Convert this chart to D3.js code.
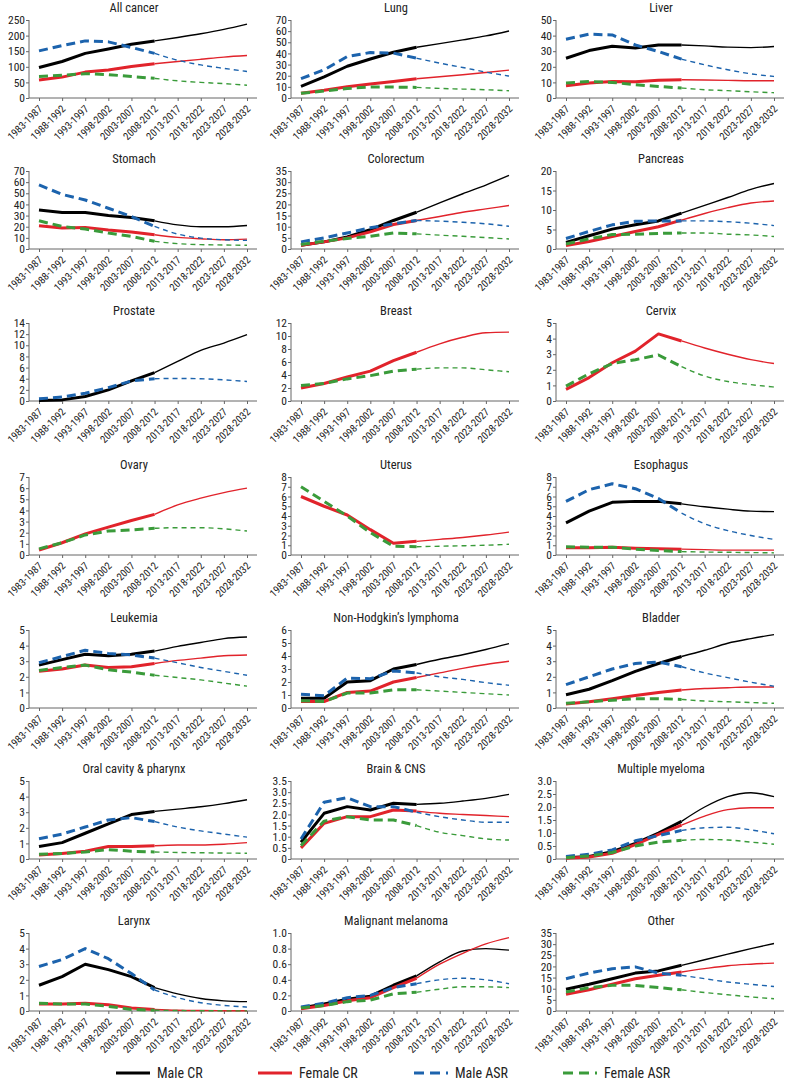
<!DOCTYPE html>
<html><head><meta charset="utf-8">
<script src="https://cdn.jsdelivr.net/npm/d3@7"></script>
<style>
body{margin:0;background:#fff;}
svg text{font-family:"Liberation Sans Narrow","Arial Narrow","Roboto Condensed","Liberation Sans",sans-serif;fill:#222;}
</style></head><body>
<svg id="c" width="791" height="1084"></svg>
<script>
const categories = ["1983-1987","1988-1992","1993-1997","1998-2002","2003-2007","2008-2012","2013-2017","2018-2022","2023-2027","2028-2032"];
const seriesNames = ["Male CR","Female CR","Male ASR","Female ASR"];
const panelTitles = ["All cancer","Lung","Liver","Stomach","Colorectum","Pancreas","Prostate","Breast","Cervix","Ovary","Uterus","Esophagus","Leukemia","Non-Hodgkin’s lymphoma","Bladder","Oral cavity & pharynx","Brain & CNS","Multiple myeloma","Larynx","Malignant melanoma","Other"];
const yMaxes = [250,70,50,70,35,20,14,12,5,7,8,8,5,6,5,5,3.5,3.0,5,1.0,35];
const ySteps = [50,10,10,10,5,5,2,2,1,1,1,1,1,1,1,1,0.5,0.5,1,0.2,5];

// each panel: [Male CR, Female CR, Male ASR, Female ASR]; null = not shown
const allCancer = [[98,117,143,157,172,183,194,206,220,237],[58,67,83,90,101,110,117,124,131,136],[151,168,183,180,162,143,121,106,95,85],[69,73,78,75,69,63,55,50,46,41]];
const lung = [[10.5,19,28.5,35,41,45.5,48.8,52.2,55.7,60.2],[4.2,6.9,10.1,12.5,14.9,17.3,19.1,20.9,22.9,25],[17.3,25.3,37.2,40.8,40.3,35.7,31.3,27.4,23.2,19.7],[4.2,6.3,8.6,9.8,9.8,9.5,8.6,8,7.4,6.5]];
const liver = [[25.5,30.4,33.2,32,34,34,33.4,32.6,32.3,33],[7.9,9.6,10.6,10.4,11.3,11.7,11.5,11.3,11.1,11.1],[37.7,40.9,40.4,34,29.8,24.9,21.3,18.1,15.5,13.8],[9.6,10.6,10,8.5,7.4,6.4,5.3,4.7,4,3.4]];
const stomach = [[35,32.8,32.8,30.1,28.3,25.3,21.7,20,20,21.1],[20.9,18.8,19.4,17,15.2,12.8,10.4,9.2,8.3,8.9],[57.5,49,44,36.6,29.2,20.3,13.4,9.8,8.3,7.7],[25.3,20.3,17.9,14.3,11.3,6.9,4.8,3.9,3.6,3.3]];
const colorectum = [[1.7,3.2,5.4,8.7,12.8,16.5,20.7,24.8,28.7,33],[1.7,3.2,5,7.7,11,12.8,14.6,16.5,18,19.5],[3.2,5,7.2,9.5,11.3,12.8,12.5,12,11.3,10.2],[2,3.5,4.7,5.7,7.2,6.8,6.2,5.7,5.1,4.5]];
const pancreas = [[1.7,3.4,5.1,6.2,7.2,9.2,11.2,13.2,15.3,16.8],[0.9,1.9,3.2,4.5,5.7,7.4,9.1,10.6,11.8,12.3],[2.7,4.5,6.2,7.1,7.2,7.2,7.2,7,6.6,6],[1.3,2.6,3.7,3.8,4,4.1,4.1,3.8,3.6,3.2]];
const prostate = [[0.1,0.2,0.8,2,3.6,5.1,7.1,9.1,10.4,11.9],null,[0.4,0.7,1.4,2.4,3.6,4,4.05,4,3.8,3.5],null];
const breast = [null,[2,2.7,3.7,4.6,6.2,7.5,8.8,9.8,10.5,10.6],null,[2.4,2.7,3.4,3.9,4.6,4.9,5.1,5.1,4.8,4.5]];
const cervix = [null,[0.75,1.5,2.45,3.2,4.3,3.85,3.4,3.0,2.65,2.4],null,[0.95,1.75,2.4,2.65,2.95,2.2,1.6,1.25,1.05,0.9]];
const ovary = [null,[0.45,1.1,1.9,2.5,3.1,3.65,4.5,5.1,5.6,6.0],null,[0.55,1.1,1.8,2.15,2.25,2.4,2.45,2.45,2.35,2.15]];
const uterus = [null,[6.0,5.0,4.1,2.6,1.2,1.4,1.6,1.8,2.05,2.35],null,[7.0,5.5,4.0,2.3,0.9,0.85,0.9,0.95,1.0,1.1]];
const esophagus = [[3.3,4.5,5.4,5.5,5.5,5.25,4.95,4.7,4.5,4.45],[0.75,0.75,0.8,0.7,0.65,0.6,0.55,0.5,0.5,0.5],[5.5,6.7,7.3,6.8,5.8,4.3,3.2,2.5,2.0,1.6],[0.85,0.8,0.8,0.6,0.45,0.35,0.3,0.28,0.25,0.22]];
const leukemia = [[2.75,3.1,3.45,3.35,3.45,3.65,3.95,4.2,4.45,4.55],[2.35,2.5,2.75,2.6,2.65,2.85,3.05,3.2,3.35,3.4],[2.9,3.3,3.7,3.5,3.4,3.2,2.9,2.6,2.35,2.1],[2.4,2.6,2.75,2.45,2.3,2.1,1.95,1.8,1.6,1.4]];
const nhl = [[0.75,0.75,2.0,2.1,3.0,3.35,3.75,4.1,4.5,4.95],[0.5,0.5,1.2,1.3,2.0,2.35,2.7,3.05,3.35,3.6],[1.05,0.95,2.3,2.25,2.85,2.7,2.4,2.2,1.95,1.75],[0.55,0.5,1.15,1.15,1.4,1.4,1.3,1.2,1.1,1.0]];
const bladder = [[0.85,1.2,1.75,2.35,2.85,3.3,3.7,4.15,4.45,4.7],[0.25,0.4,0.6,0.8,1.0,1.15,1.25,1.3,1.35,1.35],[1.5,2.0,2.5,2.85,2.95,2.65,2.25,1.95,1.65,1.4],[0.3,0.4,0.5,0.6,0.6,0.55,0.45,0.4,0.35,0.3]];
const oral = [[0.8,1.05,1.65,2.25,2.85,3.05,3.2,3.35,3.55,3.8],[0.25,0.35,0.5,0.8,0.8,0.85,0.9,0.9,0.95,1.05],[1.3,1.6,2.05,2.5,2.65,2.4,2.05,1.8,1.6,1.4],[0.3,0.35,0.45,0.6,0.5,0.45,0.42,0.4,0.38,0.37]];
const brain = [[0.75,2.05,2.35,2.2,2.5,2.45,2.5,2.6,2.72,2.9],[0.5,1.6,1.9,1.9,2.2,2.15,2.05,2.0,1.95,1.9],[0.9,2.55,2.75,2.35,2.35,2.1,1.9,1.75,1.65,1.65],[0.6,1.7,1.9,1.75,1.75,1.5,1.2,1.05,0.9,0.85]];
const myeloma = [[0.05,0.1,0.28,0.6,1.0,1.45,2.0,2.4,2.55,2.4],[0.03,0.08,0.22,0.55,0.95,1.3,1.65,1.9,1.97,1.97],[0.1,0.18,0.35,0.7,0.9,1.1,1.2,1.22,1.12,0.97],[0.05,0.12,0.25,0.5,0.65,0.72,0.75,0.73,0.65,0.57]];
const larynx = [[1.65,2.2,3.0,2.65,2.2,1.5,1.1,0.8,0.65,0.6],[0.45,0.45,0.5,0.4,0.2,0.1,0.05,0.03,0.02,0.02],[2.85,3.3,4.0,3.35,2.4,1.35,0.85,0.53,0.36,0.25],[0.5,0.45,0.45,0.3,0.1,0.05,0.03,0.02,0.01,0.01]];
const melanoma = [[0.04,0.09,0.15,0.19,0.33,0.45,0.63,0.77,0.8,0.78],[0.03,0.07,0.13,0.17,0.3,0.42,0.6,0.74,0.86,0.94],[0.05,0.1,0.17,0.2,0.3,0.35,0.4,0.42,0.4,0.35],[0.04,0.07,0.12,0.14,0.22,0.24,0.28,0.31,0.31,0.3]];
const other = [[9.8,12,14.5,17,18,20.5,23,25.5,28,30.3],[7.5,9.5,12,14.5,16,17.5,19,20.3,21,21.5],[14.5,17,19,19.8,17,16,14.5,13,12,11],[8.5,10.5,11.5,11.5,10.5,9.5,8.3,7.3,6.3,5.5]];

const panelData = [allCancer,lung,liver,stomach,colorectum,pancreas,prostate,breast,cervix,ovary,uterus,esophagus,leukemia,nhl,bladder,oral,brain,myeloma,larynx,melanoma,other];

// layout
const colX = [29, 291, 556];
const rowTop = [20, 171, 323, 477, 630, 781, 933];
const plotW = 228, plotH = 78;
const colors = ["#000000", "#e1232b", "#1c63ad", "#3a9b3a"];
const isDashed = [false, false, true, true];
const lastObserved = 5;

const svg = d3.select("#c");

panelData.forEach((data, i) => {
  const col = i % 3, row = Math.floor(i / 3);
  const g = svg.append("g").attr("transform", `translate(${colX[col]},${rowTop[row]})`);
  const x = d3.scalePoint().domain(categories).range([10, 218]);
  const y = d3.scaleLinear().domain([0, yMaxes[i]]).range([plotH, 0]);
  const step = ySteps[i];
  const ticks = d3.range(0, Math.round(yMaxes[i] / step) + 1).map(k => +(k * step).toFixed(2));
  const fmt = step < 1 ? (d => d === 0 ? "0" : d.toFixed(1)) : d3.format("d");

  // title
  g.append("text").attr("x", 105).attr("y", -8).attr("text-anchor", "middle")
    .attr("font-size", 12.5).text(panelTitles[i]);

  // y axis
  const ya = g.append("g").call(d3.axisLeft(y).tickValues(ticks).tickFormat(fmt).tickSize(3).tickSizeOuter(0));
  ya.selectAll("text").attr("font-size", 11.5).attr("x", -4);
  ya.selectAll("path,line").attr("stroke", "#666");
  ya.select(".domain").attr("d", `M0,0V${plotH}`);

  // x axis
  const xa = g.append("g").attr("transform", `translate(0,${plotH})`)
    .call(d3.axisBottom(x).tickSize(3).tickSizeOuter(0));
  xa.select(".domain").attr("d", `M0,0H${plotW}`).attr("stroke", "#666");
  xa.selectAll("line").attr("stroke", "#666");
  xa.selectAll("text").attr("font-size", 10.5)
    .attr("text-anchor", "end").attr("y", 0).attr("dy", "0.35em")
    .attr("transform", "translate(1,9) rotate(-45)");

  // series
  data.forEach((vals, s) => {
    if (!vals) return;
    const pts = vals.map((v, k) => [x(categories[k]), y(v)]);
    const obs = pts.slice(0, lastObserved + 1);
    const proj = pts.slice(lastObserved);
    g.append("path").attr("d", d3.line().curve(d3.curveMonotoneX)(proj))
      .attr("fill", "none").attr("stroke", colors[s]).attr("stroke-width", 1.4)
      .attr("stroke-dasharray", isDashed[s] ? "5,4" : null);
    g.append("path").attr("d", d3.line()(obs))
      .attr("fill", "none").attr("stroke", colors[s]).attr("stroke-width", 3)
      .attr("stroke-linejoin", "round")
      .attr("stroke-dasharray", isDashed[s] ? "9,5" : null);
  });
});

// legend
const legendX = [116, 258, 414, 563];
const legendY = 1073;
const lg = svg.append("g");
seriesNames.forEach((name, s) => {
  lg.append("line").attr("x1", legendX[s]).attr("x2", legendX[s] + 34)
    .attr("y1", legendY).attr("y2", legendY)
    .attr("stroke", colors[s]).attr("stroke-width", 3)
    .attr("stroke-dasharray", isDashed[s] ? "10,6" : null);
  lg.append("text").attr("x", legendX[s] + 41).attr("y", legendY).attr("dy", "0.35em")
    .attr("font-size", 14).text(name);
});
</script>
</body></html>
